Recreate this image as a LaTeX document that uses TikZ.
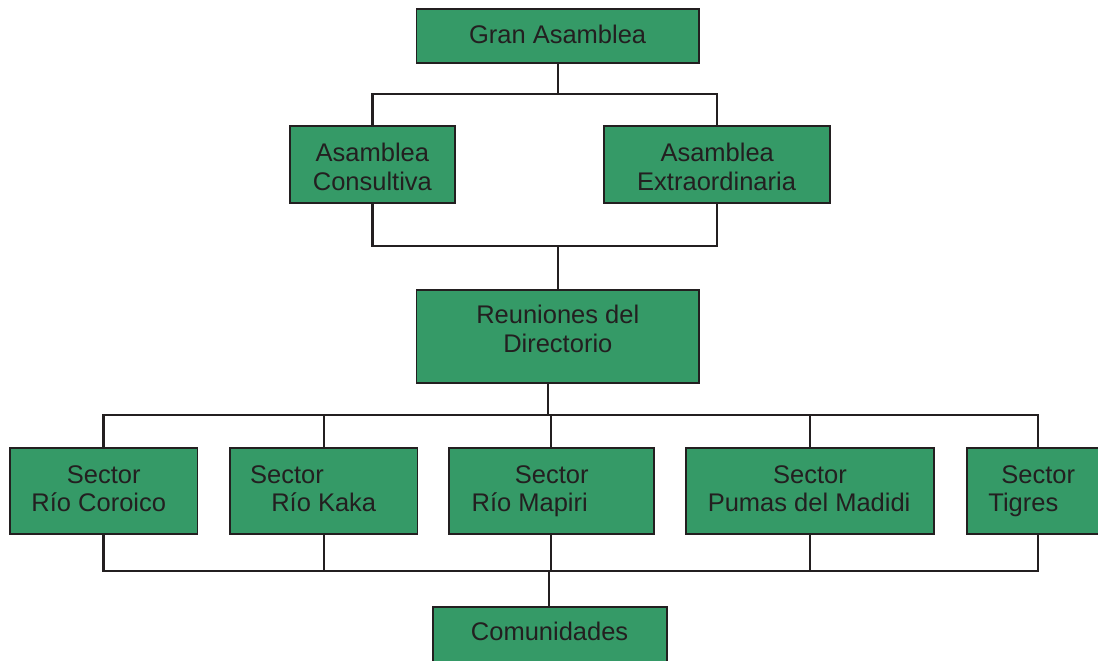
\documentclass[tikz,border=0pt]{standalone}
\usepackage{fontspec}
\setmainfont{Liberation Sans}
\definecolor{boxgreen}{RGB}{53,154,103}
\definecolor{ink}{RGB}{35,31,32}
\begin{document}
\begin{tikzpicture}[x=1pt,y=-1pt,
  box/.style={draw=ink,fill=boxgreen,line width=1.8pt,rectangle,inner sep=0pt},
  conn/.style={draw=ink,line width=2.2pt},
  txt/.style={inner sep=0pt,text=ink,font=\fontsize{25.5}{29}\selectfont}]
\useasboundingbox (0,0) rectangle (1098,661);
% boxes
\node[box,minimum width=282.6,minimum height=53.4] (gran) at (557.7,36) {};
\node[box,minimum width=165,minimum height=77] (cons) at (372.5,164.5) {};
\node[box,minimum width=226.2,minimum height=77] (ext) at (716.9,164.5) {};
\node[box,minimum width=282.6,minimum height=93] (reu) at (557.7,336.5) {};
\node[box,minimum width=187.9,minimum height=86.6] (s1) at (103.55,491) {};
\node[box,minimum width=187.5,minimum height=86.6] (s2) at (323.75,491) {};
\node[box,minimum width=204.6,minimum height=86.6] (s3) at (551.3,491) {};
\node[box,minimum width=248.6,minimum height=86.6] (s4) at (810,491) {};
\node[box,minimum width=142,minimum height=86.6] (s5) at (1038,491) {};
\node[box,minimum width=234,minimum height=56] (com) at (550,635) {};
% texts
\node[txt,anchor=base] (tgran) at (557.6,44) {Gran Asamblea};
\node[txt,anchor=base] (tcons1) at (372.4,161) {Asamblea};
\node[txt,anchor=base] (tcons2) at (372.4,190.7) {Consultiva};
\node[txt,anchor=base] (text1) at (717.2,161) {Asamblea};
\node[txt,anchor=base] (text2) at (716.6,190.7) {Extraordinaria};
\node[txt,anchor=base] (treu1) at (557.8,323.3) {Reuniones del};
\node[txt,anchor=base] (treu2) at (557.8,352.7) {Directorio};
\node[txt,anchor=base] (ts1a) at (103.75,483.3) {Sector};
\node[txt,anchor=base] (ts1b) at (98.75,511.7) {Río Coroico};
\node[txt,anchor=base west] (ts2a) at (250,483.3) {Sector};
\node[txt,anchor=base] (ts2b) at (323.75,511.7) {Río Kaka};
\node[txt,anchor=base] (ts3a) at (551.8,483.3) {Sector};
\node[txt,anchor=base west] (ts3b) at (471.4,511.7) {Río Mapiri};
\node[txt,anchor=base] (ts4a) at (810,483.3) {Sector};
\node[txt,anchor=base] (ts4b) at (809.1,511.7) {Pumas del Madidi};
\node[txt,anchor=base] (ts5a) at (1038.2,483.3) {Sector};
\node[txt,anchor=base west] (ts5b) at (988.2,511.7) {Tigres};
\node[txt,anchor=base] (tcom) at (549.6,640) {Comunidades};
% bus points
\coordinate (b1) at (557.7,94.3);
\coordinate (b2) at (557.7,246);
\coordinate (b3) at (548,415);
\coordinate (b4) at (549,570.7);
% connectors
\draw[conn] (gran.south) -- (b1);
\draw[conn] (cons.north) |- (b1) -| (ext.north);
\draw[conn] (cons.south) |- (b2) -| (ext.south);
\draw[conn] (b2) -- (reu.north);
\draw[conn] (reu.south -| b3) -- (b3);
\draw[conn] (s1.north) |- (b3) -| (s5.north);
\draw[conn] (s2.north) -- (s2.north |- b3);
\draw[conn] (s3.north) -- (s3.north |- b3);
\draw[conn] (s4.north) -- (s4.north |- b3);
\draw[conn] (s1.south) |- (b4) -| (s5.south);
\draw[conn] (s2.south) -- (s2.south |- b4);
\draw[conn] (s3.south) -- (s3.south |- b4);
\draw[conn] (s4.south) -- (s4.south |- b4);
\draw[conn] (b4) -- (com.north -| b4);
\end{tikzpicture}
\end{document}
